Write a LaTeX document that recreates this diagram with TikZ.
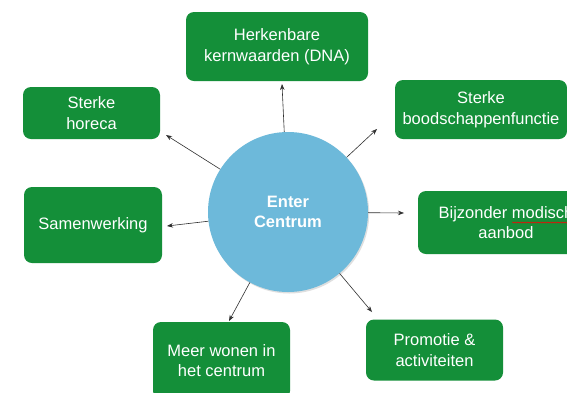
\documentclass[tikz,border=0pt]{standalone}
\usepackage{fontspec}
\setmainfont{Liberation Sans}
\usetikzlibrary{arrows.meta,shadows,decorations.pathmorphing}
\definecolor{boxgreen}{HTML}{148F39}
\definecolor{circblue}{HTML}{6DB9DA}
\definecolor{arrgray}{HTML}{303030}
\begin{document}
\begin{tikzpicture}[x=1pt,y=-1pt,
 box/.style={fill=boxgreen, rounded corners=8pt, text=white, align=center, inner sep=0pt, font=\fontsize{16.5}{20.5}\selectfont},
 hub/.style={circle, fill=circblue, minimum size=160pt, inner sep=0pt, text=white, align=center, font=\bfseries\fontsize{16.5}{20.5}\selectfont, drop shadow={shadow xshift=1.2pt, shadow yshift=-1.5pt, opacity=0.25}},
 arr/.style={draw=arrgray, line width=0.6pt, -{Stealth[length=6pt,width=4.5pt]}},
 spell/.style={draw=red, line width=0.5pt, decorate, decoration={snake, amplitude=0.6pt, segment length=2.5pt}}]
\useasboundingbox[fill=white] (0,0) rectangle (567,392);
\node[box, minimum width=182pt, minimum height=69pt] (h) at (277,46.5) {Herkenbare\\kernwaarden (DNA)};
\node[box, minimum width=137pt, minimum height=52pt] (sh) at (91.5,113) {Sterke\\horeca};
\node[box, minimum width=172pt, minimum height=59pt] (sb) at (481,109.5) {Sterke\\boodschappenfunctie};
\node[box, minimum width=176pt, minimum height=63pt] (bm) at (506,222.5) {Bijzonder modisch\\aanbod};
\node[box, minimum width=138pt, minimum height=76pt] (sw) at (93,225) {Samenwerking};
\node[box, minimum width=137pt, minimum height=77pt] (mw) at (221.5,360.5) {Meer wonen in\\het centrum};
\node[box, minimum width=137pt, minimum height=61pt] (pa) at (434.5,350) {Promotie \&\\activiteiten};
\node[hub] (c) at (288,212) {Enter\\Centrum};
\coordinate (t1) at (282,84);
\coordinate (t2) at (166,135);
\coordinate (t3) at (377,129);
\coordinate (t4) at (404,213);
\coordinate (t5) at (167,226);
\coordinate (t6) at (229,321);
\coordinate (t7) at (372,312);
\draw[arr] (c) -- (t1);
\draw[arr] (c) -- (t2);
\draw[arr] (c) -- (t3);
\draw[arr] (c) -- (t4);
\draw[arr] (c) -- (t5);
\draw[arr] (c) -- (t6);
\draw[arr] (c) -- (t7);
\coordinate (s1) at (512,222.5);
\coordinate (s2) at (570,222.5);
\draw[spell] (s1) -- (s2);
\end{tikzpicture}
\end{document}
